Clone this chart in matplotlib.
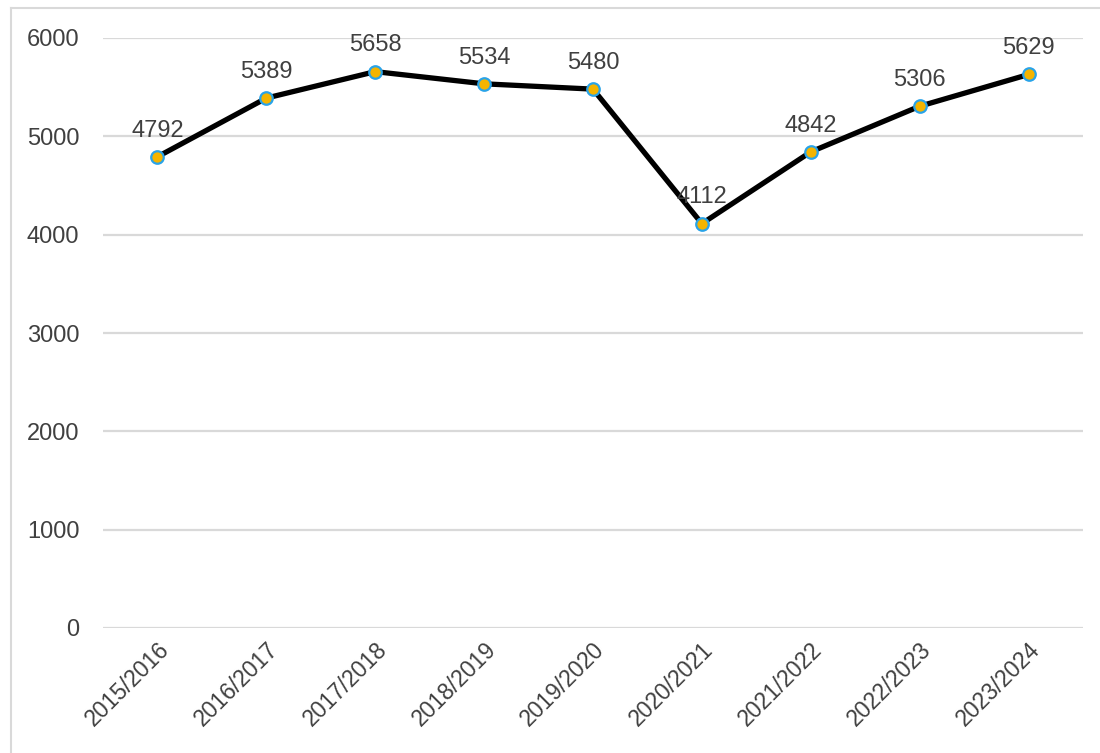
import matplotlib.pyplot as plt
from matplotlib.lines import Line2D

seasons = ["2015/2016", "2016/2017", "2017/2018", "2018/2019", "2019/2020",
           "2020/2021", "2021/2022", "2022/2023", "2023/2024"]
values = [4792, 5389, 5658, 5534, 5480, 4112, 4842, 5306, 5629]
yticks = [0, 1000, 2000, 3000, 4000, 5000, 6000]

plt.rcParams['font.family'] = ['Liberation Sans', 'DejaVu Sans']
txt = '#404040'

fig = plt.figure(figsize=(11, 7.53), dpi=100)
ax = fig.add_axes([103/1100, 1 - 628/753, 980/1100, 590/753])

x = range(len(seasons))
ax.plot(x, values, color='black', lw=3.8, marker='o', ms=9,
        mfc='#F4B400', mec='#29A3E8', mew=1.6, clip_on=False, zorder=3)

for i, v in zip(x, values):
    ax.annotate(str(v), (i, v), xytext=(0, 11), textcoords='offset points',
                ha='center', va='bottom', fontsize=17, color=txt)

ax.set_xlim(-0.5, len(seasons) - 0.5)
ax.set_ylim(0, 6000)
ax.set_yticks(yticks)
ax.set_yticklabels([str(t) for t in yticks], fontsize=17, color=txt)
ax.set_xticks(list(x))
ax.set_xticklabels(seasons, fontsize=16.5, color=txt, rotation=45,
                   ha='right', rotation_mode='anchor')
ax.tick_params(length=0, pad=17, axis='y')
ax.tick_params(length=0, pad=7, axis='x')
ax.grid(axis='y', color='#d9d9d9', lw=1.6)
ax.set_axisbelow(True)
for s in ax.spines.values():
    s.set_visible(False)

# outer frame (left and top edges visible in the crop)
fig.add_artist(Line2D([11/1100, 11/1100], [0, 1 - 8/753], color='#d9d9d9', lw=1.5))
fig.add_artist(Line2D([11/1100, 1], [1 - 8/753, 1 - 8/753], color='#d9d9d9', lw=1.5))

fig.savefig('out.png', dpi=100)
